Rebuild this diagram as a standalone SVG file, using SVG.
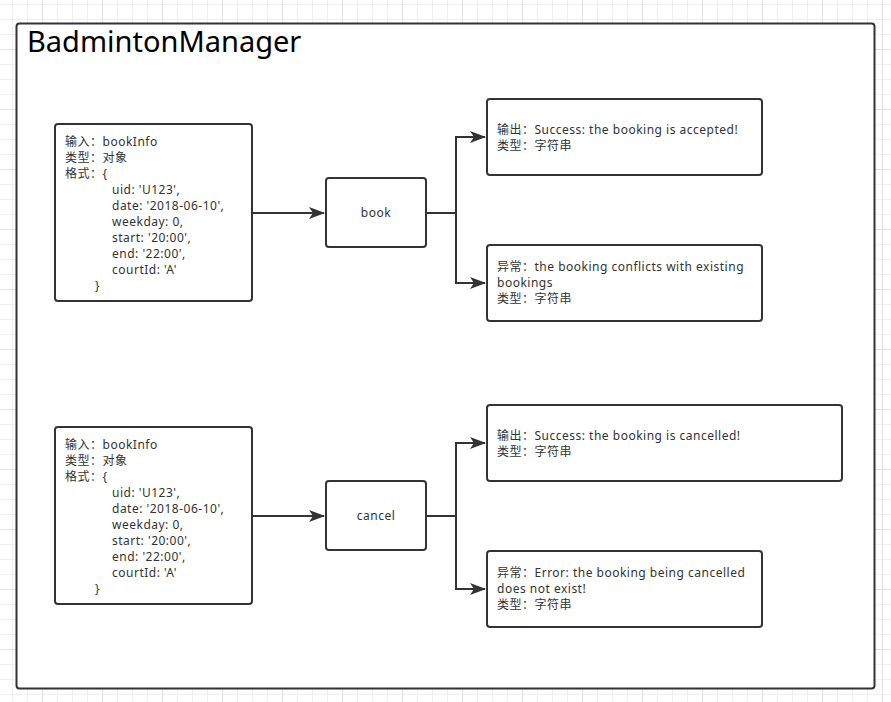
<svg xmlns="http://www.w3.org/2000/svg" width="891" height="702" viewBox="0 0 891 702">
<style>
.box{fill:#fff;stroke:#333;stroke-width:2}
.t{font-family:"Noto Sans","Noto Sans CJK SC",sans-serif;font-size:12px;letter-spacing:0.5px;fill:#333}
.c{text-anchor:middle}
.edge{fill:none;stroke:#333;stroke-width:2}
</style>
<defs>
<pattern id="grid" patternUnits="userSpaceOnUse" x="42" y="49" width="60" height="60">
<path d="M15.5 0V60M30.5 0V60M45.5 0V60M0 15.5H60M0 30.5H60M0 45.5H60" stroke="#efefef" stroke-width="1"/>
<path d="M0.5 0V60M0 0.5H60" stroke="#e2e2e2" stroke-width="1"/>
</pattern>
<marker id="arr" viewBox="0 0 16 12" refX="15" refY="6" markerWidth="16" markerHeight="12" markerUnits="userSpaceOnUse" orient="auto">
<path d="M0 0L16 6L0 12L4 6Z" fill="#333"/>
</marker>
</defs>
<rect width="891" height="702" fill="#fff"/>
<rect width="891" height="702" fill="url(#grid)"/>
<g id="container">
<rect class="box" x="16.5" y="23.5" width="858" height="665" rx="3"/>
<text x="27" y="52" font-family="Noto Sans,Noto Sans CJK SC,sans-serif" font-size="29" fill="#000">BadmintonManager</text>
</g>
<g id="connectors">
<path class="edge" d="M252 213H324" marker-end="url(#arr)"/>
<path class="edge" d="M426 213H456V137H485" marker-end="url(#arr)"/>
<path class="edge" d="M456 213V283H485" marker-end="url(#arr)"/>
<path class="edge" d="M252 516H324" marker-end="url(#arr)"/>
<path class="edge" d="M426 516H456V443H485" marker-end="url(#arr)"/>
<path class="edge" d="M456 516V589H485" marker-end="url(#arr)"/>
</g>
<g id="input1">
<rect class="box" x="55" y="124" width="197" height="177" rx="3"/>
<text class="t"><tspan x="65" y="145.5">输入：bookInfo</tspan><tspan x="65" y="161.5">类型：对象</tspan><tspan x="65" y="177.5">格式：{</tspan><tspan x="112" y="193.5">uid: 'U123',</tspan><tspan x="112" y="209.5">date: '2018-06-10',</tspan><tspan x="112" y="225.5">weekday: 0,</tspan><tspan x="112" y="241.5">start: '20:00',</tspan><tspan x="112" y="257.5">end: '22:00',</tspan><tspan x="112" y="273.5">courtId: 'A'</tspan><tspan x="95" y="289.5">}</tspan></text>
</g>
<g id="book">
<rect class="box" x="326" y="178" width="100" height="69" rx="3"/>
<text class="t c" x="376" y="217">book</text>
</g>
<g id="output1">
<rect class="box" x="487" y="99" width="275" height="76" rx="3"/>
<text class="t"><tspan x="497" y="133.5">输出：Success: the booking is accepted!</tspan><tspan x="497" y="149.5">类型：字符串</tspan></text>
</g>
<g id="error1">
<rect class="box" x="487" y="245" width="275" height="76" rx="3"/>
<text class="t"><tspan x="497" y="271">异常：the booking conflicts with existing</tspan><tspan x="497" y="287">bookings</tspan><tspan x="497" y="303">类型：字符串</tspan></text>
</g>
<g id="input2">
<rect class="box" x="55" y="427" width="197" height="177" rx="3"/>
<text class="t"><tspan x="65" y="448.5">输入：bookInfo</tspan><tspan x="65" y="464.5">类型：对象</tspan><tspan x="65" y="480.5">格式：{</tspan><tspan x="112" y="496.5">uid: 'U123',</tspan><tspan x="112" y="512.5">date: '2018-06-10',</tspan><tspan x="112" y="528.5">weekday: 0,</tspan><tspan x="112" y="544.5">start: '20:00',</tspan><tspan x="112" y="560.5">end: '22:00',</tspan><tspan x="112" y="576.5">courtId: 'A'</tspan><tspan x="95" y="592.5">}</tspan></text>
</g>
<g id="cancel">
<rect class="box" x="326" y="481" width="100" height="69" rx="3"/>
<text class="t c" x="376" y="520">cancel</text>
</g>
<g id="output2">
<rect class="box" x="487" y="405" width="355" height="76" rx="3"/>
<text class="t"><tspan x="497" y="439.5">输出：Success: the booking is cancelled!</tspan><tspan x="497" y="455.5">类型：字符串</tspan></text>
</g>
<g id="error2">
<rect class="box" x="487" y="551" width="275" height="76" rx="3"/>
<text class="t"><tspan x="497" y="577">异常：Error: the booking being cancelled</tspan><tspan x="497" y="593">does not exist!</tspan><tspan x="497" y="609">类型：字符串</tspan></text>
</g>
</svg>
